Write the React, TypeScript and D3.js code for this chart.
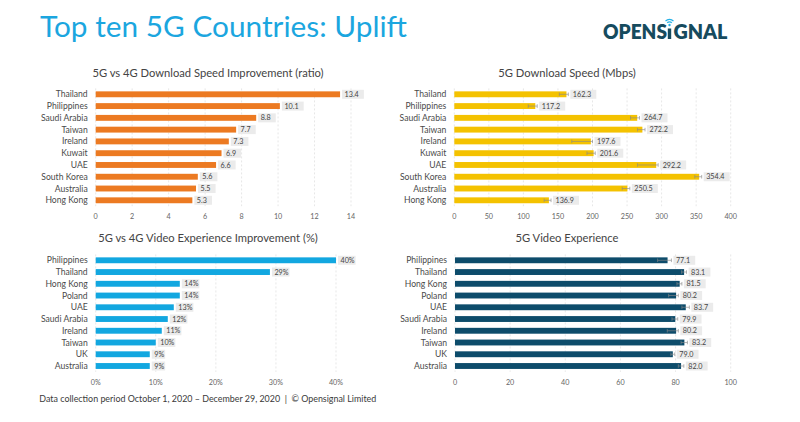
import React from "react";
import * as d3 from "d3";

const countries1 = ["Thailand","Philippines","Saudi Arabia","Taiwan","Ireland","Kuwait","UAE","South Korea","Australia","Hong Kong"];
const ratio1 = [13.4,10.1,8.8,7.7,7.3,6.9,6.6,5.6,5.5,5.3];
const speed2 = [162.3,117.2,264.7,272.2,197.6,201.6,292.2,354.4,250.5,136.9];
const speedLo2 = [152,107,255,265,170,192,265,348,243,130];
const speedHi2 = [165,120,268,276,200,204,295,358,254,140];

const countries3 = ["Philippines","Thailand","Hong Kong","Poland","UAE","Saudi Arabia","Ireland","Taiwan","UK","Australia"];
const videoImp3 = [0.40,0.29,0.14,0.14,0.13,0.12,0.11,0.10,0.09,0.09];
const video4 = [77.1,83.1,81.5,80.2,83.7,79.9,80.2,83.2,79.0,82.0];
const videoLo4 = [73.5,82.2,80.5,77.5,82.3,78.7,77.0,82.0,78.3,81.0];
const videoHi4 = [78.5,84.0,82.3,81.0,85.0,80.8,81.0,84.3,79.7,83.0];

const ticks1 = [0,2,4,6,8,10,12,14];
const ticks2 = [0,50,100,150,200,250,300,350,400];
const ticks3 = [0,0.1,0.2,0.3,0.4];
const ticks4 = [0,20,40,60,80,100];

const FONT = "Lato, 'Open Sans', sans-serif";

type PanelProps = {
  title: string;
  titleX: number;
  titleY: number;
  cats: string[];
  vals: number[];
  lo?: number[];
  hi?: number[];
  domain: [number, number];
  ticks: number[];
  xRange: [number, number];
  yFirst: number;
  yLast: number;
  tickY: number;
  color: string;
  fmtTick: (v: number) => string;
  fmtVal: (v: number) => string;
};

function Panel(p: PanelProps) {
  const x = d3.scaleLinear().domain(p.domain).range(p.xRange);
  const step = (p.yLast - p.yFirst) / (p.cats.length - 1);
  const y = d3
    .scaleBand<string>()
    .domain(p.cats)
    .range([p.yFirst - step / 2, p.yLast + step / 2])
    .paddingInner(0.5)
    .paddingOuter(0.25);
  const bw = y.bandwidth();
  const gridTop = p.yFirst - step / 2;
  const gridBot = p.yLast + step / 2;
  return (
    <g>
      <text x={p.titleX} y={p.titleY} textAnchor="middle" fontSize={11.2} fill="#444" fontFamily={FONT}>
        {p.title}
      </text>
      {p.ticks.map((t) => (
        <g key={"t" + t}>
          <line x1={x(t)} x2={x(t)} y1={gridTop} y2={gridBot} stroke="#dcdcdc" strokeWidth={0.7} strokeDasharray="2,2" />
          <text x={x(t)} y={p.tickY} textAnchor="middle" fontSize={7.2} fill="#666" fontFamily={FONT}>
            {p.fmtTick(t)}
          </text>
        </g>
      ))}
      {p.cats.map((c, i) => {
        const yc = (y(c) as number) + bw / 2;
        const v = p.vals[i];
        const end = x(v);
        const errHi = p.hi ? x(p.hi[i]) : end;
        const errLo = p.lo ? x(p.lo[i]) : end;
        const labelX = Math.max(end, errHi) + 2;
        const txt = p.fmtVal(v);
        const boxW = txt.length * 4.2 + 5;
        return (
          <g key={c}>
            <text x={p.xRange[0] - 8} y={yc + 3} textAnchor="end" fontSize={8.6} fill="#4a4a4a" fontFamily={FONT}>
              {c}
            </text>
            <rect x={x(0)} y={y(c)} width={end - x(0)} height={bw} fill={p.color} />
            {p.lo && p.hi && (
              <g stroke="#8a8a8a" strokeWidth={0.7} opacity={0.9}>
                <line x1={errLo} x2={errHi} y1={yc} y2={yc} />
                <line x1={errLo} x2={errLo} y1={yc - 1.8} y2={yc + 1.8} />
                <line x1={errHi} x2={errHi} y1={yc - 1.8} y2={yc + 1.8} />
              </g>
            )}
            <rect x={labelX} y={yc - 4.5} width={boxW} height={9} fill="#ebebeb" />
            <text x={labelX + 2.5} y={yc + 2.6} fontSize={7.2} fill="#444" fontFamily={FONT}>
              {txt}
            </text>
          </g>
        );
      })}
    </g>
  );
}

export default function App() {
  const f1 = d3.format(".1f");
  return (
    <div style={{ position: "fixed", left: 0, top: 0, width: 800, height: 422, background: "#fff" }}>
      <svg width={800} height={422} style={{ display: "block" }}>
        <rect width={800} height={422} fill="#fff" />
        <text x={40} y={37} fontSize={29} fill="#1ba6df" fontFamily={FONT} textLength={367} lengthAdjust="spacingAndGlyphs">
          Top ten 5G Countries: Uplift
        </text>
        {/* logo */}
        <g fontFamily={FONT} fontWeight={800} fontSize={20.5} fill="#164b5e">
          <text x={603} y={39} textLength={64} lengthAdjust="spacingAndGlyphs">OPENS</text>
          <rect x={667.8} y={28.5} width={3.4} height={10.5} fill="#164b5e" />
          <text x={673.5} y={39} textLength={54} lengthAdjust="spacingAndGlyphs">GNAL</text>
        </g>
        <g fill="none" stroke="#27b1e6" strokeWidth={1.3} strokeLinecap="round">
          <circle cx={669.5} cy={25} r={1.2} fill="#27b1e6" stroke="none" />
          <path d={d3.arc()({ innerRadius: 3.2, outerRadius: 3.2, startAngle: -0.8, endAngle: 0.8 }) as string} transform="translate(669.5,25)" />
          <path d={d3.arc()({ innerRadius: 5.6, outerRadius: 5.6, startAngle: -0.8, endAngle: 0.8 }) as string} transform="translate(669.5,25)" />
        </g>

        <Panel
          title="5G vs 4G Download Speed Improvement (ratio)"
          titleX={208}
          titleY={76.5}
          cats={countries1}
          vals={ratio1}
          domain={[0, 14]}
          ticks={ticks1}
          xRange={[95.7, 351]}
          yFirst={94.3}
          yLast={200.3}
          tickY={218.5}
          color="#ec7a22"
          fmtTick={(v) => String(v)}
          fmtVal={f1}
        />
        <Panel
          title="5G Download Speed (Mbps)"
          titleX={567}
          titleY={76.5}
          cats={countries1}
          vals={speed2}
          lo={speedLo2}
          hi={speedHi2}
          domain={[0, 400]}
          ticks={ticks2}
          xRange={[454.3, 730.7]}
          yFirst={94.3}
          yLast={200.3}
          tickY={218.5}
          color="#f4c200"
          fmtTick={(v) => String(v)}
          fmtVal={f1}
        />
        <Panel
          title="5G vs 4G Video Experience Improvement (%)"
          titleX={208}
          titleY={242}
          cats={countries3}
          vals={videoImp3}
          domain={[0, 0.4]}
          ticks={ticks3}
          xRange={[95.7, 336]}
          yFirst={260.3}
          yLast={366}
          tickY={385}
          color="#12a7e0"
          fmtTick={d3.format(".0%")}
          fmtVal={d3.format(".0%")}
        />
        <Panel
          title="5G Video Experience"
          titleX={567}
          titleY={242}
          cats={countries3}
          vals={video4}
          lo={videoLo4}
          hi={videoHi4}
          domain={[0, 100]}
          ticks={ticks4}
          xRange={[455, 730.7]}
          yFirst={260.3}
          yLast={366}
          tickY={385}
          color="#0d4c6b"
          fmtTick={(v) => String(v)}
          fmtVal={f1}
        />
        <text x={39.3} y={402} fontSize={8.9} fill="#3a3a3a" fontFamily={FONT} textLength={337} lengthAdjust="spacingAndGlyphs">
          {"Data collection period October 1, 2020 – December 29, 2020\u00a0\u00a0|\u00a0\u00a0© Opensignal Limited"}
        </text>
      </svg>
    </div>
  );
}
